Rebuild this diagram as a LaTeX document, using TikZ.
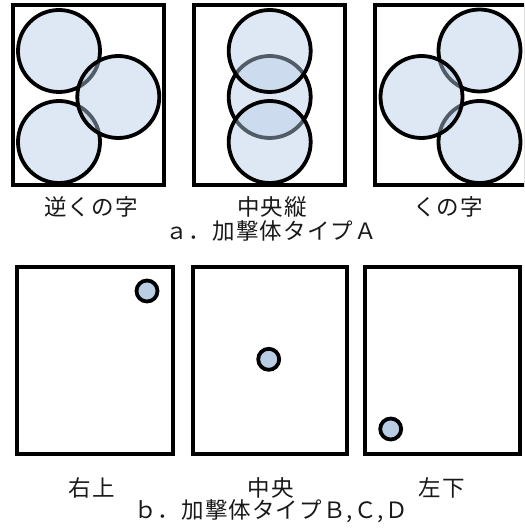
\documentclass[tikz,border=0pt]{standalone}
\usepackage{fontspec}
\newfontfamily\jp{Noto Sans CJK JP}[LetterSpace=5]
\definecolor{discfill}{RGB}{182,204,230}
\definecolor{dotfill}{RGB}{185,205,229}
\begin{document}
\begin{tikzpicture}[x=1pt,y=-1pt,
  frame/.style={draw=black,line width=4pt,rectangle,inner sep=0pt},
  disc/.style={circle,draw=black,line width=3.8pt,fill=discfill,fill opacity=0.45,draw opacity=1,minimum size=82pt,inner sep=0pt},
  dot/.style={circle,draw=black,line width=3.8pt,fill=dotfill,minimum size=21pt,inner sep=0pt},
  lbl/.style={font=\jp\fontsize{22.5}{26}\selectfont,inner sep=0pt,text=black!90}]
\useasboundingbox (0,0) rectangle (524,529);
\clip (0,0) rectangle (524,529);
% top row frames
\node[frame,minimum width=151pt,minimum height=180pt] (fa1) at (88.8,95.5) {};
\node[frame,minimum width=151pt,minimum height=180pt] (fa2) at (269,95.5) {};
\node[frame,minimum width=151pt,minimum height=180pt] (fa3) at (450.2,95.5) {};
% box 1: reverse ku
\node[disc] (c11) at (59,51) {};
\node[disc] (c12) at (59,142) {};
\node[disc] (c13) at (118.3,97) {};
% box 2: centre vertical
\node[disc] (c22) at (269.7,97) {};
\node[disc] (c21) at (269.7,51) {};
\node[disc] (c23) at (269.7,142) {};
% box 3: ku
\node[disc] (c31) at (479.5,50.5) {};
\node[disc] (c32) at (479.5,142) {};
\node[disc] (c33) at (421.5,97) {};
% labels top
\node[lbl] (la1) at (91,207) {逆くの字};
\node[lbl] (la2) at (272,207) {中央縦};
\node[lbl] (la3) at (448,207) {くの字};
\node[lbl] (lat) at (271,231) {ａ．加撃体タイプＡ};
% bottom row frames
\node[frame,minimum width=156pt,minimum height=187pt] (fb1) at (95.2,360) {};
\node[frame,minimum width=154pt,minimum height=187pt] (fb2) at (269.5,360) {};
\node[frame,minimum width=155pt,minimum height=187pt] (fb3) at (442.5,360) {};
\node[dot] (d1) at (147,291) {};
\node[dot] (d2) at (268.7,359.3) {};
\node[dot] (d3) at (390.7,429) {};
% labels bottom
\node[lbl] (lb1) at (92,488) {右上};
\node[lbl] (lb2) at (271,488) {中央};
\node[lbl] (lb3) at (442,488) {左下};
\node[lbl] (lbt) at (271,511) {ｂ．加撃体タイプＢ,Ｃ,Ｄ};
\end{tikzpicture}
\end{document}
